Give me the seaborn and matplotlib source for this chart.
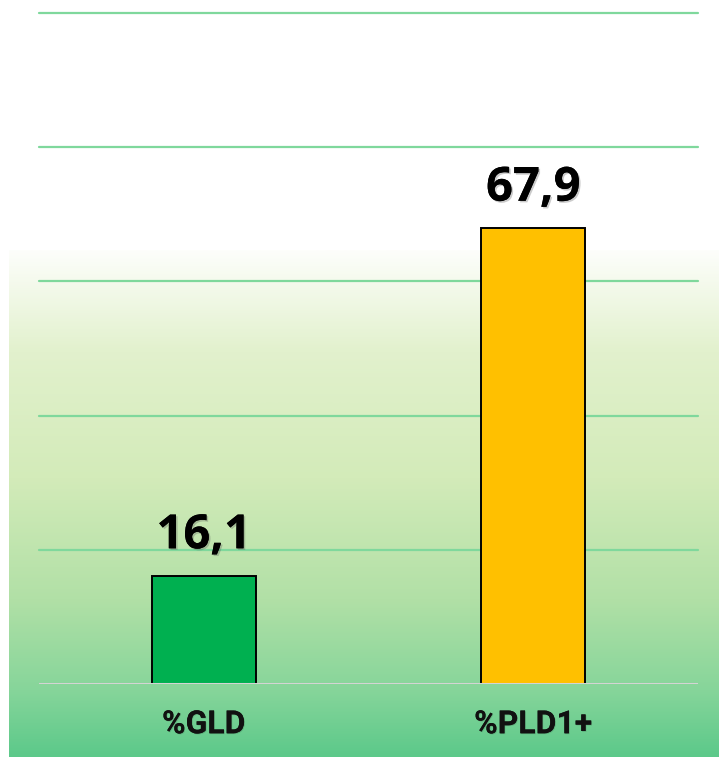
import matplotlib
matplotlib.use("Agg")
import matplotlib.pyplot as plt
import matplotlib.patheffects as pe
from matplotlib.colors import LinearSegmentedColormap
import numpy as np
import pandas as pd
import seaborn as sns

categories = ["%GLD", "%PLD1+"]
values = [16.1, 67.9]
value_labels = ["16,1", "67,9"]
bar_colors = ["#00b050", "#ffc000"]

sns.set_theme(style="white")
plt.rcParams["font.family"] = ["Open Sans", "DejaVu Sans"]

W, H = 719, 757
fig = plt.figure(figsize=(W / 100, H / 100), dpi=100)
fig.patch.set_facecolor("white")

# soft vertical green gradient behind the lower part of the chart
bg = fig.add_axes([9 / W, 0, 1 - 9 / W, (H - 250) / H], zorder=0)
grad_cmap = LinearSegmentedColormap.from_list(
    "bg",
    [(0.0, "#5cc98a"), (0.13, "#86d59a"), (0.31, "#b1e0a6"),
     (0.55, "#d3ebb9"), (0.80, "#e2f1cd"), (1.0, "#fdfefb")],
)
bg.imshow(np.linspace(0, 1, 256).reshape(-1, 1), aspect="auto",
          cmap=grad_cmap, origin="lower", extent=[0, 1, 0, 1])
bg.set_axis_off()

ax = fig.add_axes([39 / W, (H - 684) / H, 659 / W, 671 / H], zorder=1)
ax.patch.set_alpha(0)

df = pd.DataFrame({"cat": categories, "val": values})
sns.barplot(data=df, x="cat", y="val", hue="cat", palette=bar_colors,
            saturation=1, width=0.316, edgecolor="black", linewidth=1.4,
            legend=False, ax=ax, zorder=3)

ax.set_xlim(-0.5, 1.5)
ax.set_ylim(0, 100)
for y in [20, 40, 60, 80, 100]:
    ax.axhline(y, color="#7fd89c", lw=1.6, zorder=1, clip_on=False)
ax.axhline(0, color="#d4d4d4", lw=2.2, zorder=4)

for s in ax.spines.values():
    s.set_visible(False)
ax.set_yticks([])
ax.set_xticks([])
ax.set_xlabel("")
ax.set_ylabel("")

shadow = [pe.withSimplePatchShadow(offset=(1.2, -1.2), alpha=0.3,
                                   shadow_rgbFace="#555555"), pe.Normal()]

for i, (v, lab) in enumerate(zip(values, value_labels)):
    ax.annotate(lab, (i, v), xytext=(0, 12), textcoords="offset points",
                ha="center", va="bottom", fontsize=34, fontweight="bold",
                color="black", family=["Open Sans", "DejaVu Sans"],
                path_effects=shadow, zorder=5)

for i, c in enumerate(categories):
    ax.text(i, -6, c, ha="center", va="center", fontsize=23,
            fontweight="bold", color="#111111",
            family=["Roboto", "DejaVu Sans"],
            path_effects=[pe.withSimplePatchShadow(offset=(0.6, -0.6), alpha=0.15), pe.Normal()],
            clip_on=False)

fig.savefig("out.png", dpi=100)
